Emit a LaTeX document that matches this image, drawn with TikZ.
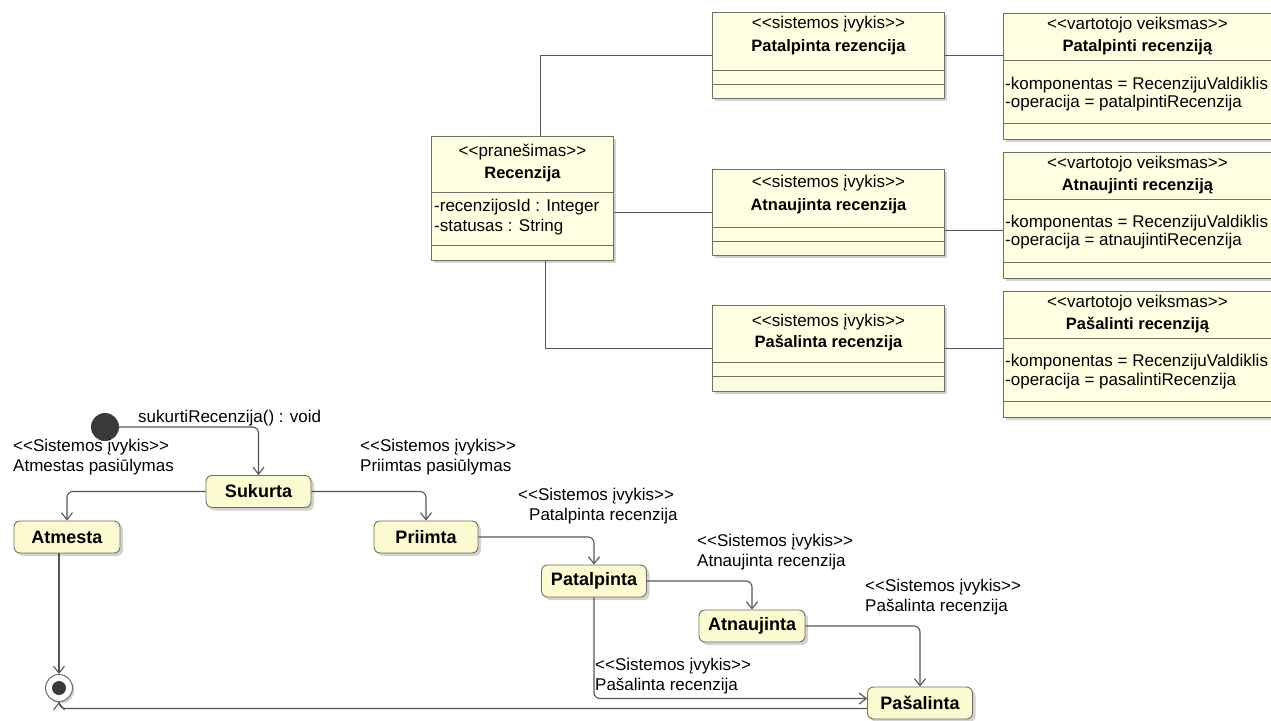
\documentclass[tikz,border=0pt]{standalone}
\usepackage{fontspec}
\setmainfont{Liberation Sans}[Ligatures=TeXOff]
\usetikzlibrary{arrows.meta,shadows}

\definecolor{boxfill}{HTML}{FFFFE2}
\definecolor{statefill}{HTML}{FBFAD0}
\definecolor{edgegray}{HTML}{6E6E62}
\definecolor{linegray}{HTML}{555555}
\definecolor{dotgray}{HTML}{3A3A3A}

\begin{document}
\begin{tikzpicture}[x=1pt,y=-1pt,line join=round,
  font=\fontsize{17}{20}\selectfont,
  cls/.style={draw=edgegray,fill=boxfill,line width=0.9pt,anchor=north west,inner sep=0pt,
    drop shadow={shadow xshift=3pt,shadow yshift=-3pt,opacity=0.35}},
  sep/.style={draw=edgegray,line width=0.9pt},
  stereo/.style={inner sep=0pt},
  ttl/.style={inner sep=0pt,font=\fontsize{16.5}{20}\selectfont\bfseries},
  attr/.style={inner sep=0pt,anchor=west},
  assoc/.style={draw=linegray,line width=1.1pt},
  state/.style={draw=edgegray,fill=statefill,line width=0.9pt,rounded corners=6pt,
    minimum height=32pt,inner sep=0pt,font=\fontsize{18}{20}\selectfont\bfseries,
    drop shadow={shadow xshift=3pt,shadow yshift=-3pt,opacity=0.35}},
  tr/.style={draw=linegray,line width=1.1pt,rounded corners=6pt,
    -{Straight Barb[length=7pt,width=11pt]}},
  lbl/.style={inner sep=0pt,anchor=west,align=left}]
  \useasboundingbox (0,0) rectangle (1271,720);
  \clip (0,0) rectangle (1271,720);

  % message class
  \node[cls,minimum width=182pt,minimum height=124pt] (msg) at (431,136) {};
  \node[stereo] (msgS) at ([yshift=-16pt]msg.north) {<<pranešimas>>};
  \node[ttl] (msgT) at ([yshift=-38pt]msg.north) {Recenzija};
  \draw[sep] ([yshift=-56pt]msg.north west) -- ([yshift=-56pt]msg.north east);
  \node[attr] (msgA) at ([xshift=3pt,yshift=-71pt]msg.north west) {-recenzijosId : Integer};
  \node[attr] (msgB) at ([xshift=3pt,yshift=-91pt]msg.north west) {-statusas : String};
  \draw[sep] ([yshift=-109pt]msg.north west) -- ([yshift=-109pt]msg.north east);

  % system events
  \node[cls,minimum width=232pt,minimum height=86pt] (evPat) at (712,12) {};
  \node[stereo] (evPatS) at ([yshift=-12pt]evPat.north) {<<sistemos įvykis>>};
  \node[ttl] (evPatT) at ([yshift=-35pt]evPat.north) {Patalpinta rezencija};
  \draw[sep] ([yshift=-58pt]evPat.north west) -- ([yshift=-58pt]evPat.north east);
  \draw[sep] ([yshift=-72pt]evPat.north west) -- ([yshift=-72pt]evPat.north east);

  \node[cls,minimum width=232pt,minimum height=86pt] (evAtn) at (712,169) {};
  \node[stereo] (evAtnS) at ([yshift=-14pt]evAtn.north) {<<sistemos įvykis>>};
  \node[ttl] (evAtnT) at ([yshift=-37pt]evAtn.north) {Atnaujinta recenzija};
  \draw[sep] ([yshift=-58pt]evAtn.north west) -- ([yshift=-58pt]evAtn.north east);
  \draw[sep] ([yshift=-72pt]evAtn.north west) -- ([yshift=-72pt]evAtn.north east);

  \node[cls,minimum width=232pt,minimum height=86pt] (evPas) at (712,305) {};
  \node[stereo] (evPasS) at ([yshift=-17pt]evPas.north) {<<sistemos įvykis>>};
  \node[ttl] (evPasT) at ([yshift=-38pt]evPas.north) {Pašalinta recenzija};
  \draw[sep] ([yshift=-57pt]evPas.north west) -- ([yshift=-57pt]evPas.north east);
  \draw[sep] ([yshift=-71pt]evPas.north west) -- ([yshift=-71pt]evPas.north east);

  % user actions
  \node[cls,minimum width=268pt,minimum height=126pt] (actPat) at (1003,13) {};
  \node[stereo] (actPatS) at ([yshift=-12pt]actPat.north) {<<vartotojo veiksmas>>};
  \node[ttl] (actPatT) at ([yshift=-34pt]actPat.north) {Patalpinti recenziją};
  \draw[sep] ([yshift=-47pt]actPat.north west) -- ([yshift=-47pt]actPat.north east);
  \node[attr] (actPatA) at ([xshift=2pt,yshift=-72pt]actPat.north west) {-komponentas = RecenzijuValdiklis};
  \node[attr] (actPatB) at ([xshift=2pt,yshift=-90pt]actPat.north west) {-operacija = patalpintiRecenzija};
  \draw[sep] ([yshift=-110pt]actPat.north west) -- ([yshift=-110pt]actPat.north east);

  \node[cls,minimum width=268pt,minimum height=126pt] (actAtn) at (1003,152) {};
  \node[stereo] (actAtnS) at ([yshift=-12pt]actAtn.north) {<<vartotojo veiksmas>>};
  \node[ttl] (actAtnT) at ([yshift=-34pt]actAtn.north) {Atnaujinti recenziją};
  \draw[sep] ([yshift=-47pt]actAtn.north west) -- ([yshift=-47pt]actAtn.north east);
  \node[attr] (actAtnA) at ([xshift=2pt,yshift=-71pt]actAtn.north west) {-komponentas = RecenzijuValdiklis};
  \node[attr] (actAtnB) at ([xshift=2pt,yshift=-89pt]actAtn.north west) {-operacija = atnaujintiRecenzija};
  \draw[sep] ([yshift=-110pt]actAtn.north west) -- ([yshift=-110pt]actAtn.north east);

  \node[cls,minimum width=268pt,minimum height=126pt] (actPas) at (1003,291) {};
  \node[stereo] (actPasS) at ([yshift=-12pt]actPas.north) {<<vartotojo veiksmas>>};
  \node[ttl] (actPasT) at ([yshift=-34pt]actPas.north) {Pašalinti recenziją};
  \draw[sep] ([yshift=-47pt]actPas.north west) -- ([yshift=-47pt]actPas.north east);
  \node[attr] (actPasA) at ([xshift=2pt,yshift=-71pt]actPas.north west) {-komponentas = RecenzijuValdiklis};
  \node[attr] (actPasB) at ([xshift=2pt,yshift=-90pt]actPas.north west) {-operacija = pasalintiRecenzija};
  \draw[sep] ([yshift=-110pt]actPas.north west) -- ([yshift=-110pt]actPas.north east);

  % associations
  \draw[assoc] ([xshift=18pt]msg.north) |- (evPat.west);
  \draw[assoc] (msg.east |- evAtn.west) -- (evAtn.west);
  \draw[assoc] ([xshift=23pt]msg.south) |- (evPas.west);
  \draw[assoc] (evPat.east) -- (evPat.east -| actPat.west);
  \draw[assoc] ([yshift=-18pt]evAtn.east) -- ([yshift=-18pt]evAtn.east -| actAtn.west);
  \draw[assoc] (evPas.east) -- (evPas.east -| actPas.west);

  % state machine
  \node[circle,fill=dotgray,minimum size=28pt,inner sep=0pt] (init) at (105,427) {};
  \node[circle,draw=edgegray,fill=white,line width=1pt,minimum size=27pt,inner sep=0pt,
    drop shadow={shadow xshift=2pt,shadow yshift=-2pt,opacity=0.35}] (final) at (59,688) {};
  \fill[dotgray] (final) circle (7pt);

  \node[state,minimum width=105pt] (sukurta) at (258.5,491.5) {Sukurta};
  \node[state,minimum width=106pt] (atmesta) at (67,537) {Atmesta};
  \node[state,minimum width=104pt] (priimta) at (426,537) {Priimta};
  \node[state,minimum width=105pt] (patalpinta) at (594,581) {Patalpinta};
  \node[state,minimum width=106pt] (atnaujinta) at (752,626) {Atnaujinta};
  \node[state,minimum width=105pt] (pasalinta) at (920,703) {Pašalinta};

  \draw[tr] (init) -| (sukurta);
  \draw[tr] (sukurta) -| (atmesta);
  \draw[tr] (sukurta) -| (priimta);
  \draw[tr] (priimta) -| (patalpinta);
  \draw[tr] (patalpinta) -| (atnaujinta);
  \draw[tr] (atnaujinta) -| (pasalinta);
  \draw[tr] (patalpinta.south) |- ([yshift=4.5pt]pasalinta.west);
  \draw[tr] (final |- atmesta.south) -- (final);
  \draw[tr] ([yshift=-5.5pt]pasalinta.west) -| (final);

  \node[lbl] (lblInit) at (138,418) {sukurtiRecenzija() : void};
  \node[lbl] (lblAtm) at (13,457) {<<Sistemos įvykis>>\\Atmestas pasiūlymas};
  \node[lbl] (lblPri) at (360,457) {<<Sistemos įvykis>>\\Priimtas pasiūlymas};
  \node[lbl] (lblPat) at (518,506) {<<Sistemos įvykis>>\\\hspace*{11pt}Patalpinta recenzija};
  \node[lbl] (lblAtn) at (697,552) {<<Sistemos įvykis>>\\Atnaujinta recenzija};
  \node[lbl] (lblPas) at (865,597) {<<Sistemos įvykis>>\\Pašalinta recenzija};
  \node[lbl] (lblDel) at (595,676) {<<Sistemos įvykis>>\\Pašalinta recenzija};
\end{tikzpicture}
\end{document}
